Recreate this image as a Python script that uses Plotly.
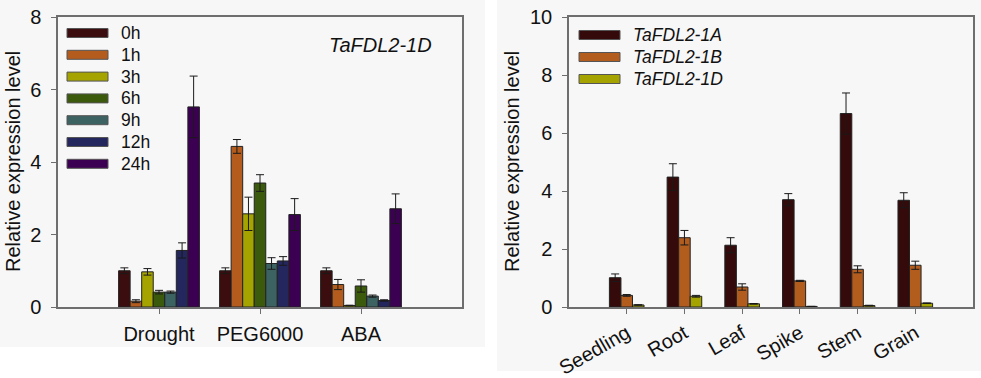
import plotly.graph_objects as go

# ---------------- data ----------------
treatments = ["Drought", "PEG6000", "ABA"]
time_points = ["0h", "1h", "3h", "6h", "9h", "12h", "24h"]
stress_values = {
    "0h":  [1.00, 1.00, 1.00],
    "1h":  [0.16, 4.43, 0.62],
    "3h":  [0.97, 2.57, 0.04],
    "6h":  [0.41, 3.42, 0.58],
    "9h":  [0.41, 1.20, 0.30],
    "12h": [1.56, 1.27, 0.18],
    "24h": [5.52, 2.55, 2.71],
}
stress_errors = {
    "0h":  [0.08, 0.08, 0.08],
    "1h":  [0.04, 0.19, 0.14],
    "3h":  [0.09, 0.46, 0.01],
    "6h":  [0.05, 0.23, 0.17],
    "9h":  [0.03, 0.16, 0.03],
    "12h": [0.21, 0.12, 0.02],
    "24h": [0.85, 0.44, 0.41],
}
stress_colors = ["#3b0d0e", "#b35c1e", "#a5a300", "#3b5a0b", "#3d6262", "#23275e", "#3c0052"]

tissues = ["Seedling", "Root", "Leaf", "Spike", "Stem", "Grain"]
genes = ["TaFDL2-1A", "TaFDL2-1B", "TaFDL2-1D"]
tissue_values = {
    "TaFDL2-1A": [1.01, 4.48, 2.13, 3.70, 6.67, 3.68],
    "TaFDL2-1B": [0.40, 2.39, 0.69, 0.90, 1.30, 1.44],
    "TaFDL2-1D": [0.07, 0.37, 0.11, 0.02, 0.05, 0.13],
}
tissue_errors = {
    "TaFDL2-1A": [0.13, 0.46, 0.26, 0.21, 0.71, 0.26],
    "TaFDL2-1B": [0.03, 0.25, 0.11, 0.02, 0.12, 0.14],
    "TaFDL2-1D": [0.01, 0.03, 0.01, 0.00, 0.01, 0.01],
}
gene_colors = ["#350a0b", "#b25c1e", "#a5a300"]

left_yticks = [0, 2, 4, 6, 8]
right_yticks = [0, 2, 4, 6, 8, 10]

# ---------------- figure ----------------
W, H = 981, 378
FONT = "Liberation Sans, Arial, sans-serif"
AX = "#6e6e6e"
TXT = "#111111"
fig = go.Figure()

err_style = dict(type="data", color="#1a1a1a", thickness=1, width=4, visible=True)

for tp, col in zip(time_points, stress_colors):
    fig.add_trace(go.Bar(
        x=treatments, y=stress_values[tp], name=tp,
        error_y=dict(array=stress_errors[tp], **err_style),
        marker=dict(color=col, line=dict(color="#222222", width=1)),
        xaxis="x", yaxis="y", showlegend=False,
    ))

n_genes = len(genes)
group_w = 0.6
bw = group_w / n_genes
for i, (g, col) in enumerate(zip(genes, gene_colors)):
    fig.add_trace(go.Bar(
        x=tissues, y=tissue_values[g], name=g,
        error_y=dict(array=tissue_errors[g], **err_style),
        marker=dict(color=col, line=dict(color="#222222", width=1)),
        width=bw, offset=-group_w / 2 + i * bw,
        xaxis="x2", yaxis="y2", showlegend=False,
    ))


def px_x(p):
    return p / W


def px_y(p):
    return 1 - p / H


axis_common = dict(
    showline=True, mirror=True, linecolor=AX, linewidth=1.5,
    ticks="outside", ticklen=5, tickcolor=AX, tickwidth=1.2,
    showgrid=False, zeroline=False, automargin=False,
    tickfont=dict(family=FONT, size=20, color=TXT),
)

shapes = [
    dict(type="rect", xref="paper", yref="paper", x0=0, x1=px_x(485),
         y0=px_y(347), y1=1, fillcolor="#f7f7f7", line=dict(width=0), layer="below"),
    dict(type="rect", xref="paper", yref="paper", x0=px_x(497), x1=1,
         y0=px_y(371), y1=1, fillcolor="#f7f7f7", line=dict(width=0), layer="below"),
]
annotations = [
    dict(text="<i>TaFDL2-1D</i>", xref="paper", yref="paper", x=px_x(380), y=px_y(45),
         xanchor="center", yanchor="middle",
         showarrow=False, font=dict(family=FONT, size=20, color=TXT)),
    dict(text="Relative expression level", xref="paper", yref="paper",
         x=px_x(13), y=px_y(162), textangle=-90, showarrow=False,
         xanchor="center", yanchor="middle",
         font=dict(family=FONT, size=20, color=TXT)),
    dict(text="Relative expression level", xref="paper", yref="paper",
         x=px_x(512), y=px_y(162), textangle=-90, showarrow=False,
         xanchor="center", yanchor="middle",
         font=dict(family=FONT, size=20, color=TXT)),
]


def add_legend(labels, colors, x_left, y_first, step, italic):
    """Hand-built legend: outlined long swatches with text labels."""
    for k, (lab, col) in enumerate(zip(labels, colors)):
        yc = y_first + k * step
        shapes.append(dict(
            type="rect", xref="paper", yref="paper",
            x0=px_x(x_left), x1=px_x(x_left + 41),
            y0=px_y(yc + 4.5), y1=px_y(yc - 4.5),
            fillcolor=col, line=dict(color="#555555", width=1),
        ))
        annotations.append(dict(
            text=("<i>%s</i>" % lab) if italic else lab,
            xref="paper", yref="paper", x=px_x(x_left + 52), y=px_y(yc),
            xanchor="left", yanchor="middle", showarrow=False,
            font=dict(family=FONT, size=17.5, color=TXT),
        ))


add_legend(time_points, stress_colors, 67, 33, 21.8, False)
add_legend(genes, gene_colors, 579, 35, 22, True)

fig.update_layout(
    width=W, height=H,
    margin=dict(l=0, r=0, t=0, b=0),
    paper_bgcolor="white", plot_bgcolor="rgba(0,0,0,0)",
    barmode="group", bargap=0.2, bargroupgap=0,
    showlegend=False,
    font=dict(family=FONT, color=TXT),
    xaxis=dict(domain=[px_x(58), px_x(462)], anchor="y", type="category",
               range=[-1, 3], ticklabelstandoff=3, **axis_common),
    yaxis=dict(domain=[px_y(307), px_y(17)], anchor="x", range=[0, 8],
               tickvals=left_yticks, ticklabelstandoff=6, **axis_common),
    xaxis2=dict(domain=[px_x(569), px_x(973)], anchor="y2", type="category",
                range=[-1, 6], tickangle=-30, ticklabelstandoff=0, **axis_common),
    yaxis2=dict(domain=[px_y(307), px_y(17)], anchor="x2", range=[0, 10],
                tickvals=right_yticks, ticklabelstandoff=6, **axis_common),
    shapes=shapes,
    annotations=annotations,
)

fig.write_html(
    "out.html",
    config={"displayModeBar": False},
    post_script="document.body.style.margin='0';document.body.style.padding='0';",
)
